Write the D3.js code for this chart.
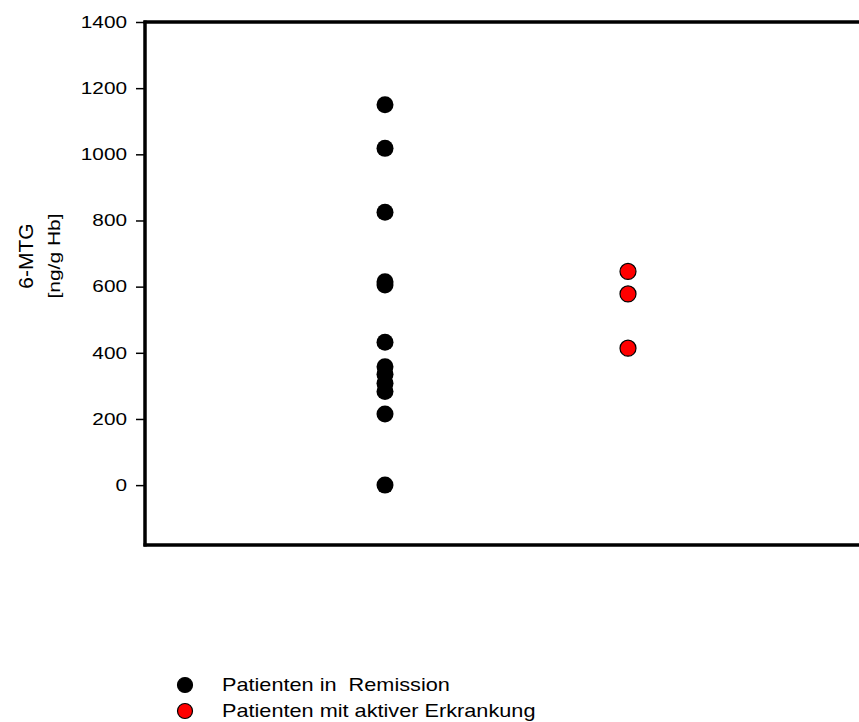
<!DOCTYPE html>
<html>
<head>
<meta charset="utf-8">
<script src="https://cdn.jsdelivr.net/npm/d3@7"></script>
<style>
  body { margin: 0; background: #fff; }
  text { font-family: "Liberation Sans", Arial, sans-serif; }
</style>
</head>
<body>
<div id="chart"></div>
<script>
var svgWidth = 859;
var svgHeight = 722;

// data
var groups = ["Patienten in  Remission", "Patienten mit aktiver Erkrankung"];
var groupColors = ["#000000", "#ff0000"];
var remissionValues = [1150, 1018, 825, 615, 605, 432, 358, 335, 308, 283, 215, 0];
var activeValues = [646, 578, 414];
var yTicks = [0, 200, 400, 600, 800, 1000, 1200, 1400];

// the original text looks stretched sideways
var stretch = 1.26;

var svg = d3.select("#chart")
  .append("svg")
  .attr("width", svgWidth)
  .attr("height", svgHeight);

var plotLeft = 145, plotTop = 22, plotBottom = 545;

var y = d3.scaleLinear()
  .domain([-181, 1400])
  .range([plotBottom, plotTop]);

// group positions 1 and 2 on a 0..3 range
var x = d3.scaleLinear()
  .domain([0, 3])
  .range([142, 871]);

// y axis
var leftAxis = d3.axisLeft(y)
  .tickValues(yTicks)
  .tickSize(9)
  .tickPadding(9)
  .tickFormat(d3.format("d"));

var yAxis = svg.append("g")
  .attr("transform", `translate(${plotLeft}, 0)`)
  .call(leftAxis);

yAxis.select(".domain").remove();
yAxis.selectAll(".tick line").attr("stroke", "#000").attr("stroke-width", 1.5);
yAxis.selectAll(".tick text")
  .attr("fill", "#000")
  .attr("x", -18 / stretch)
  .attr("transform", `scale(${stretch}, 1)`)
  .style("font-size", "16.5px");

// frame (left, top, bottom)
svg.append("line")
  .attr("x1", plotLeft).attr("x2", plotLeft)
  .attr("y1", plotTop - 1.5).attr("y2", plotBottom + 1.5)
  .attr("stroke", "#000").attr("stroke-width", 3.5);
svg.append("line")
  .attr("x1", plotLeft - 1.5).attr("x2", svgWidth)
  .attr("y1", plotTop).attr("y2", plotTop)
  .attr("stroke", "#000").attr("stroke-width", 3.5);
svg.append("line")
  .attr("x1", plotLeft - 1.5).attr("x2", svgWidth)
  .attr("y1", plotBottom).attr("y2", plotBottom)
  .attr("stroke", "#000").attr("stroke-width", 3.5);

// y labels
var ylabelsGroup = svg.append("g")
  .attr("transform", "translate(0, 256)");

ylabelsGroup.append("text")
  .attr("transform", "translate(33, 0) rotate(-90)")
  .attr("text-anchor", "middle")
  .style("font-size", "21px")
  .text("6-MTG");

ylabelsGroup.append("text")
  .attr("transform", "translate(60, 0) rotate(-90)")
  .attr("text-anchor", "middle")
  .attr("textLength", 85)
  .attr("lengthAdjust", "spacingAndGlyphs")
  .style("font-size", "16px")
  .text("[ng/g Hb]");

// points
svg.append("g").selectAll("circle")
  .data(remissionValues)
  .enter()
  .append("circle")
  .attr("cx", x(1))
  .attr("cy", d => y(d))
  .attr("r", 8.5)
  .attr("fill", groupColors[0]);

svg.append("g").selectAll("circle")
  .data(activeValues)
  .enter()
  .append("circle")
  .attr("cx", x(2))
  .attr("cy", d => y(d))
  .attr("r", 8)
  .attr("fill", groupColors[1])
  .attr("stroke", "#000")
  .attr("stroke-width", 1.2);

// legend
var legend = svg.append("g")
  .attr("transform", "translate(185, 685)");

var items = legend.selectAll("g")
  .data(groups)
  .enter()
  .append("g")
  .attr("transform", (d, i) => `translate(0, ${i * 26})`);

items.append("circle")
  .attr("r", 7.5)
  .attr("fill", (d, i) => groupColors[i])
  .attr("stroke", "#000")
  .attr("stroke-width", 1.2);

items.append("text")
  .attr("x", 37 / 1.24)
  .attr("dy", "0.35em")
  .attr("transform", "scale(1.24, 1)")
  .attr("xml:space", "preserve")
  .style("white-space", "pre")
  .style("font-size", "17.5px")
  .text(d => d);
</script>
</body>
</html>
